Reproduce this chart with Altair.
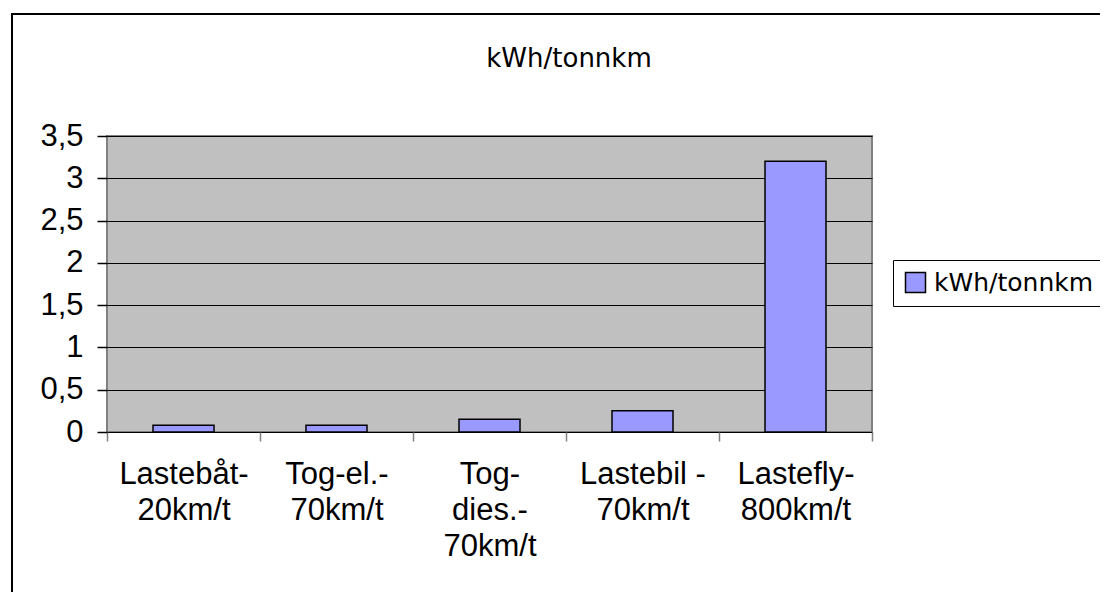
import altair as alt
import pandas as pd

categories = ["Lastebåt-|20km/t", "Tog-el.-|70km/t", "Tog-|dies.-|70km/t", "Lastebil -|70km/t", "Lastefly-|800km/t"]
values = [0.08, 0.08, 0.15, 0.25, 3.2]
series_name = "kWh/tonnkm"
title_text = "kWh/tonnkm"
y_ticks = [0, 0.5, 1, 1.5, 2, 2.5, 3, 3.5]

df = pd.DataFrame({"cat": categories, "val": values, "series": [series_name] * len(categories)})

W, H = 765, 296

border = alt.Chart(pd.DataFrame({"a": [0]})).mark_rect(
    filled=False, stroke="black", strokeWidth=2
).encode(
    x=alt.value(-95), x2=alt.value(1100), y=alt.value(-122), y2=alt.value(600)
)

title = alt.Chart(pd.DataFrame({"t": [title_text]})).mark_text(
    font="DejaVu Sans", fontSize=26, color="black", align="center", baseline="middle"
).encode(
    x=alt.value(462), y=alt.value(-77), text="t:N"
)

bars = alt.Chart(df).mark_bar(size=61, stroke="black", strokeWidth=1.5).encode(
    x=alt.X("cat:N", sort=categories, title=None,
            scale=alt.Scale(paddingInner=0, paddingOuter=0),
            axis=alt.Axis(labelExpr="split(datum.label, '|')", labelAngle=0,
                          labelFont="Liberation Sans", labelFontSize=31, labelColor="black",
                          labelLineHeight=36, labelPadding=18, labelBaseline="top",
                          tickBand="extent", tickSize=9, tickColor="#808080", tickWidth=1.5,
                          domain=False, grid=False, labelLimit=300)),
    y=alt.Y("val:Q", title=None,
            scale=alt.Scale(domain=[0, 3.5], nice=False),
            axis=alt.Axis(values=y_ticks, labelExpr="replace(toString(datum.value), '.', ',')",
                          labelFont="Liberation Sans", labelFontSize=31, labelColor="black",
                          labelPadding=14, tickSize=10, tickColor="black", tickWidth=1.5,
                          grid=True, gridColor="black", gridWidth=1, gridOpacity=1,
                          domain=False)),
    color=alt.Color("series:N", title=None,
                    scale=alt.Scale(range=["#9999FF"]),
                    legend=alt.Legend(orient="none", legendX=786, legendY=124,
                                      symbolType="square", symbolSize=400,
                                      symbolStrokeColor="black", symbolStrokeWidth=1.5,
                                      symbolOpacity=1,
                                      labelFont="DejaVu Sans", labelFontSize=25, labelColor="black",
                                      labelOffset=6, padding=10, labelLimit=400,
                                      strokeColor="black", fillColor="white"))
)

chart = alt.layer(border, bars, title).properties(
    width=W, height=H,
    background="white",
    autosize=alt.AutoSizeParams(type="none"),
    padding={"left": 99, "top": 128, "right": 228, "bottom": 160},
).configure_view(
    fill="#C0C0C0", stroke="#808080", strokeWidth=2
)

chart.save("out.html", embed_options={"renderer": "svg", "actions": False})
